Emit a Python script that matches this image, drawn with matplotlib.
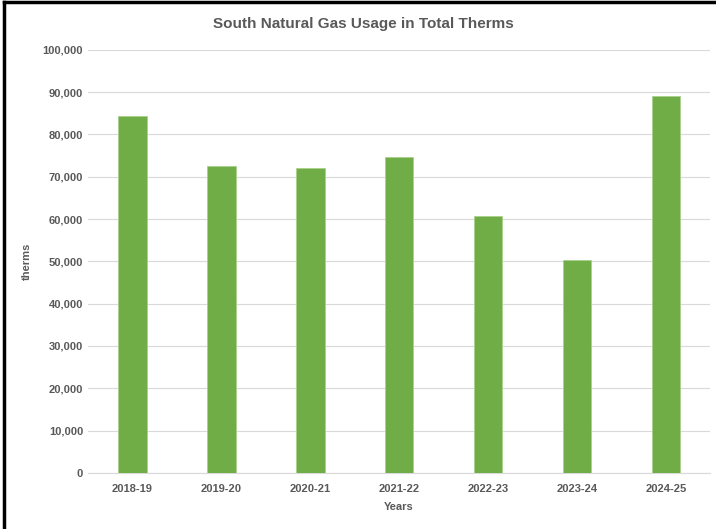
import matplotlib.pyplot as plt
from matplotlib.lines import Line2D
from matplotlib.ticker import FuncFormatter

years = ['2018-19', '2019-20', '2020-21', '2021-22', '2022-23', '2023-24', '2024-25']
therms = [84400, 72600, 72100, 74700, 60800, 50400, 89100]
y_ticks = list(range(0, 100001, 10000))

plt.rcParams['font.family'] = ['Liberation Sans Narrow', 'Liberation Sans', 'DejaVu Sans']
grey = '#595959'

fig = plt.figure(figsize=(7.16, 5.29), dpi=100)
ax = fig.add_axes([0.123, 0.106, 0.869, 0.8])

ax.bar(range(len(years)), therms, width=0.32, color='#70AD47', edgecolor='#a9d18e', linewidth=0.6, zorder=3)
ax.set_xlim(-0.5, 6.5)
ax.set_ylim(0, 100000)
ax.set_yticks(y_ticks)
ax.yaxis.set_major_formatter(FuncFormatter(lambda v, p: f'{int(v):,}'))
ax.set_xticks(range(len(years)))
ax.set_xticklabels(years)
ax.grid(axis='y', color='#d9d9d9', linewidth=0.8, zorder=0)
for s in ['top', 'right', 'left']:
    ax.spines[s].set_visible(False)
ax.spines['bottom'].set_color('#d9d9d9')
ax.tick_params(length=0, colors=grey, labelsize=8)
ax.tick_params(axis='x', pad=8)
for lab in ax.get_xticklabels() + ax.get_yticklabels():
    lab.set_fontweight('bold')

ax.set_xlabel('Years', fontsize=8, fontweight='bold', color=grey, labelpad=6)
ax.set_ylabel('therms', fontsize=8, fontweight='bold', color=grey)
ax.yaxis.set_label_coords(-0.09, 0.5)
fig.text(0.508, 0.955, 'South Natural Gas Usage in Total Therms', ha='center', va='center',
         fontsize=11, fontweight='bold', color=grey)

# frame from the screenshot (left and top edges)
fig.add_artist(Line2D([0.006, 0.006], [0, 0.996], transform=fig.transFigure, color='black', linewidth=2.5))
fig.add_artist(Line2D([0.006, 1], [0.996, 0.996], transform=fig.transFigure, color='black', linewidth=2.5))

fig.savefig('out.png', dpi=100)
